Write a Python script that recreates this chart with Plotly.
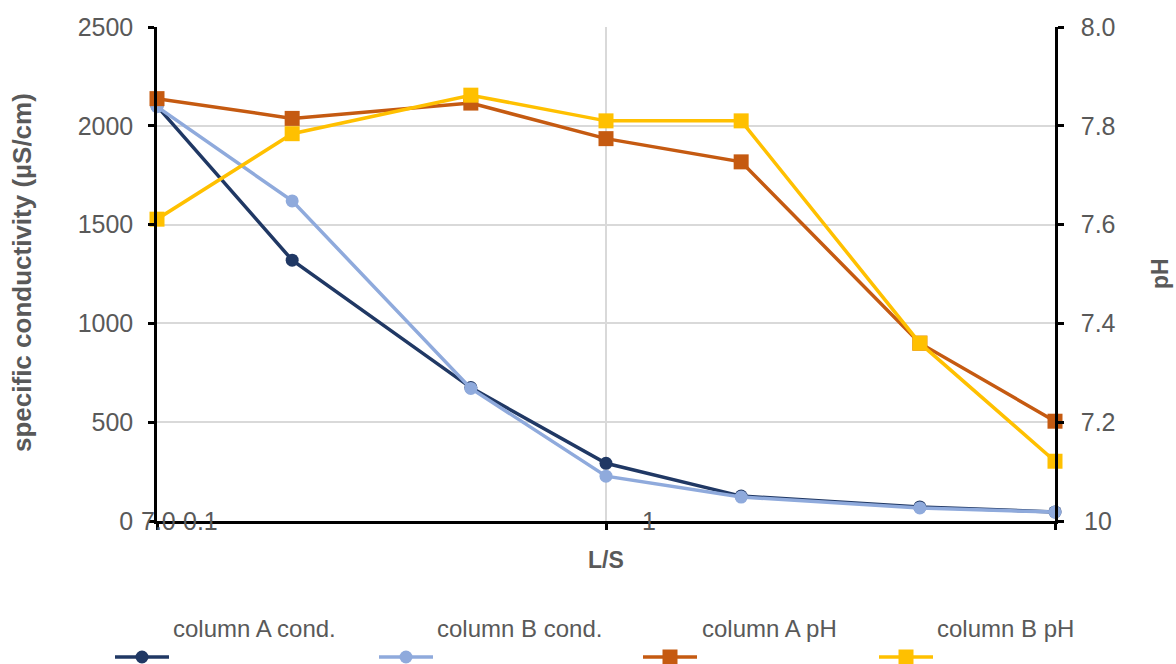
import math
import plotly.graph_objects as go

# Liquid-to-solid ratio and measured leachate properties
ls_ratio = [0.1, 0.2, 0.5, 1, 2, 5, 10]
cond_col_a = [2100, 1320, 675, 292, 126, 71, 46]
cond_col_b = [2097, 1620, 671, 227, 121, 66, 45]
ph_col_a = [7.855, 7.815, 7.846, 7.774, 7.727, 7.36, 7.202]
ph_col_b = [7.611, 7.784, 7.862, 7.81, 7.81, 7.36, 7.121]

series_names = ["column A cond.", "column B cond.", "column A pH", "column B pH"]
series_colors = ["#203864", "#8FAADC", "#C55A11", "#FFC000"]

x_ticks = [0.1, 1, 10]
x_tick_text = ["0.1", "1", "10"]
cond_ticks = [0, 500, 1000, 1500, 2000, 2500]
ph_ticks = [7.0, 7.2, 7.4, 7.6, 7.8, 8.0]
ph_tick_text = ["", "7.2", "7.4", "7.6", "7.8", "8.0"]

W, H = 1176, 664
L, R, T, B = 157, 1055, 27, 521
GREY = "#595959"
FONT = "Liberation Sans, Arial, sans-serif"


def px_x(px):
    return (px - L) / (R - L)


def px_y(py):
    return (B - py) / (B - T)


fig = go.Figure()

series = [
    (cond_col_a, "y", "circle", 13),
    (cond_col_b, "y", "circle", 13),
    (ph_col_a, "y2", "square", 15),
    (ph_col_b, "y2", "square", 15),
]
for (vals, yax, sym, size), name, color in zip(series, series_names, series_colors):
    fig.add_trace(go.Scatter(
        x=ls_ratio, y=vals, name=name, yaxis=yax, mode="lines+markers",
        line=dict(color=color, width=3.5),
        marker=dict(symbol=sym, size=size, color=color),
        cliponaxis=False, showlegend=False,
    ))

annotations = []
# x tick labels sit on the axis line, offset to the right of each tick
for v, t in zip(x_ticks, x_tick_text):
    annotations.append(dict(
        x=math.log10(v), y=0, xref="x", yref="y", text=t, showarrow=False,
        xanchor="center", yanchor="middle", xshift=43,
        font=dict(size=25, color=GREY, family=FONT),
    ))
# lowest pH label drawn at the left corner
annotations.append(dict(
    x=math.log10(x_ticks[0]), y=0, xref="x", yref="y", text="7.0", showarrow=False,
    xanchor="center", yanchor="middle", xshift=1,
    font=dict(size=25, color=GREY, family=FONT),
))
# axis titles
annotations += [
    dict(x=px_x(22), y=px_y(273), xref="paper", yref="paper", showarrow=False,
         text="<b>specific conductivity (µS/cm)</b>", textangle=-90,
         xanchor="center", yanchor="middle",
         font=dict(size=26, color=GREY, family=FONT)),
    dict(x=px_x(1160), y=px_y(274), xref="paper", yref="paper", showarrow=False,
         text="<b>pH</b>", textangle=-90, xanchor="center", yanchor="middle",
         font=dict(size=23, color=GREY, family=FONT)),
    dict(x=px_x(606), y=px_y(560), xref="paper", yref="paper", showarrow=False,
         text="<b>L/S</b>", xanchor="center", yanchor="middle",
         font=dict(size=23, color=GREY, family=FONT)),
]

# legend: label above, line sample below
shapes = []
legend_text_cx = [254, 519, 769, 1005]
legend_mark_cx = [142, 406, 670, 906]
symbols = ["circle", "circle", "square", "square"]
text_y, mark_y = 628, 657
for name, color, tcx, mcx, sym in zip(series_names, series_colors, legend_text_cx, legend_mark_cx, symbols):
    annotations.append(dict(
        x=px_x(tcx), y=px_y(text_y), xref="paper", yref="paper", text=name,
        showarrow=False, xanchor="center", yanchor="middle",
        font=dict(size=24, color=GREY, family=FONT),
    ))
    shapes.append(dict(
        type="line", xref="paper", yref="paper",
        x0=px_x(mcx - 27), x1=px_x(mcx + 27), y0=px_y(mark_y), y1=px_y(mark_y),
        line=dict(color=color, width=3.5),
    ))
    r = 6.5 if sym == "circle" else 7.5
    shapes.append(dict(
        type="circle" if sym == "circle" else "rect", xref="paper", yref="paper",
        x0=px_x(mcx - r), x1=px_x(mcx + r), y0=px_y(mark_y + r), y1=px_y(mark_y - r),
        fillcolor=color, line=dict(color=color, width=0),
    ))

fig.update_layout(
    width=W, height=H,
    margin=dict(l=L, r=W - R, t=T, b=H - B, pad=0),
    paper_bgcolor="white", plot_bgcolor="white",
    font=dict(family=FONT, color=GREY, size=25),
    xaxis=dict(
        type="log", range=[math.log10(0.1), math.log10(10)],
        tickvals=x_ticks, showticklabels=False,
        showgrid=True, gridcolor="#D9D9D9", gridwidth=1.5,
        showline=True, linecolor="black", linewidth=2.5,
        ticks="outside", ticklen=6, tickwidth=2.5, tickcolor="black",
        zeroline=False,
    ),
    yaxis=dict(
        range=[0, 2500], tickvals=cond_ticks,
        showgrid=True, gridcolor="#D9D9D9", gridwidth=1.5,
        showline=True, linecolor="black", linewidth=2.5,
        ticks="outside", ticklen=6, tickwidth=2.5, tickcolor="black",
        tickfont=dict(size=25, color=GREY, family=FONT),
        ticklabelstandoff=10, zeroline=False,
    ),
    yaxis2=dict(
        range=[7.0, 8.0], overlaying="y", side="right",
        tickvals=ph_ticks, ticktext=ph_tick_text,
        showgrid=False,
        showline=True, linecolor="black", linewidth=2.5,
        ticks="outside", ticklen=6, tickwidth=2.5, tickcolor="black",
        tickfont=dict(size=25, color=GREY, family=FONT),
        ticklabelstandoff=12, zeroline=False,
    ),
    annotations=annotations,
    shapes=shapes,
)

fig.write_html("out.html")
